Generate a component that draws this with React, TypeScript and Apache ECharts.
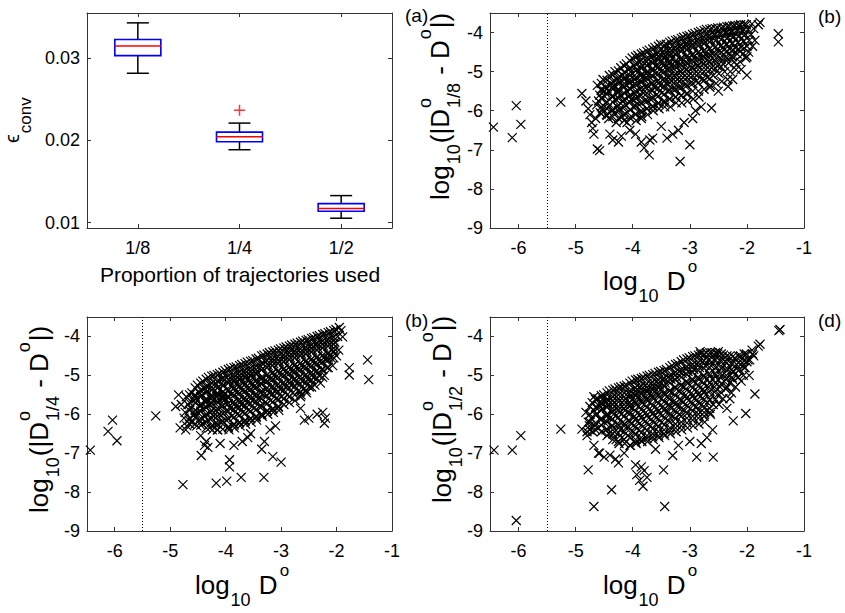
import React, { useEffect, useRef } from 'react';
import * as echarts from 'echarts';

// ---------- Panel (a): box plot data ----------
const proportions = ['1/8', '1/4', '1/2'];
const whiskerLow = [0.02817, 0.01887, 0.01054];
const quartile1 = [0.03032, 0.01984, 0.01139];
const medians = [0.0315, 0.02045, 0.01171];
const quartile3 = [0.03227, 0.02101, 0.01232];
const whiskerHigh = [0.0343, 0.02211, 0.01329];
const boxOutliers: [number, number][] = [[2, 0.02366]];
const epsTicks = [0.01, 0.02, 0.03];

// ---------- Scatter panels ----------
const logDTicks = [-6, -5, -4, -3, -2, -1];
const logErrTicks = [-9, -8, -7, -6, -5, -4];
const thresholdLogD = -5.5;

const coreEighth: [number, number][] = [
  [-4.62,-5.35],[-4.58,-5.6],[-4.63,-5.85],[-4.57,-6.05],[-4.6,-5.75],[-4.55,-5.45],
  [-4.52,-5.2],[-4.48,-5.4],[-4.5,-5.62],[-4.47,-5.8],[-4.53,-5.95],[-4.46,-6.1],[-4.49,-5.5],
  [-4.41,-5.1],[-4.38,-5.3],[-4.43,-5.5],[-4.36,-5.65],[-4.4,-5.85],[-4.37,-6.0],[-4.42,-6.2],[-4.35,-5.4],
  [-4.31,-5.0],[-4.28,-5.2],[-4.33,-5.35],[-4.26,-5.55],[-4.3,-5.7],[-4.27,-5.9],[-4.32,-6.05],[-4.29,-6.3],[-4.25,-5.45],
  [-4.21,-4.9],[-4.18,-5.1],[-4.23,-5.25],[-4.16,-5.4],[-4.2,-5.6],[-4.17,-5.75],[-4.22,-5.95],[-4.19,-6.15],[-4.15,-5.3],
  [-4.11,-4.8],[-4.08,-4.95],[-4.13,-5.15],[-4.06,-5.3],[-4.1,-5.5],[-4.07,-5.65],[-4.12,-5.85],[-4.09,-6.05],[-4.05,-5.2],[-4.1,-6.3],
  [-4.01,-4.65],[-3.98,-4.85],[-4.03,-5.0],[-3.96,-5.2],[-4.0,-5.35],[-3.97,-5.55],[-4.02,-5.7],[-3.99,-5.9],[-3.95,-6.1],[-4.04,-5.45],
  [-3.91,-4.58],[-3.88,-4.75],[-3.93,-4.95],[-3.86,-5.1],[-3.9,-5.3],[-3.87,-5.45],[-3.92,-5.65],[-3.89,-5.85],[-3.85,-6.05],[-3.94,-6.25],[-3.9,-5.0],
  [-3.81,-4.52],[-3.78,-4.7],[-3.83,-4.85],[-3.76,-5.05],[-3.8,-5.2],[-3.77,-5.4],[-3.82,-5.55],[-3.79,-5.75],[-3.75,-5.95],[-3.84,-6.15],[-3.8,-5.1],
  [-3.71,-4.45],[-3.68,-4.62],[-3.73,-4.8],[-3.66,-4.95],[-3.7,-5.15],[-3.67,-5.3],[-3.72,-5.5],[-3.69,-5.7],[-3.65,-5.9],[-3.74,-6.1],[-3.7,-5.05],
  [-3.61,-4.38],[-3.58,-4.55],[-3.63,-4.72],[-3.56,-4.9],[-3.6,-5.05],[-3.57,-5.25],[-3.62,-5.4],[-3.59,-5.6],[-3.55,-5.8],[-3.64,-6.0],[-3.6,-4.85],
  [-3.51,-4.3],[-3.48,-4.5],[-3.53,-4.65],[-3.46,-4.85],[-3.5,-5.0],[-3.47,-5.2],[-3.52,-5.35],[-3.49,-5.55],[-3.45,-5.75],[-3.54,-5.95],[-3.5,-4.75],
  [-3.41,-4.3],[-3.38,-4.45],[-3.43,-4.6],[-3.36,-4.8],[-3.4,-4.95],[-3.37,-5.15],[-3.42,-5.3],[-3.39,-5.5],[-3.35,-5.7],[-3.44,-5.9],[-3.4,-4.7],
  [-3.31,-4.22],[-3.28,-4.4],[-3.33,-4.55],[-3.26,-4.75],[-3.3,-4.9],[-3.27,-5.1],[-3.32,-5.25],[-3.29,-5.45],[-3.25,-5.65],[-3.34,-5.9],[-3.3,-4.65],
  [-3.21,-4.18],[-3.18,-4.35],[-3.23,-4.5],[-3.16,-4.7],[-3.2,-4.85],[-3.17,-5.0],[-3.22,-5.2],[-3.19,-5.4],[-3.15,-5.6],[-3.24,-5.8],
  [-3.11,-4.12],[-3.08,-4.3],[-3.13,-4.45],[-3.06,-4.62],[-3.1,-4.8],[-3.07,-4.95],[-3.12,-5.15],[-3.09,-5.35],[-3.05,-5.55],[-3.14,-5.8],
  [-3.01,-4.08],[-2.98,-4.25],[-3.03,-4.4],[-2.96,-4.58],[-3.0,-4.75],[-2.97,-4.9],[-3.02,-5.1],[-2.99,-5.3],[-2.95,-5.5],[-3.04,-5.75],
  [-2.91,-4.02],[-2.88,-4.2],[-2.93,-4.35],[-2.86,-4.52],[-2.9,-4.7],[-2.87,-4.85],[-2.92,-5.05],[-2.89,-5.25],[-2.85,-5.5],[-2.94,-5.7],
  [-2.81,-3.97],[-2.78,-4.15],[-2.83,-4.3],[-2.76,-4.48],[-2.8,-4.65],[-2.77,-4.8],[-2.82,-5.0],[-2.79,-5.2],[-2.75,-5.45],[-2.84,-5.65],
  [-2.71,-3.92],[-2.68,-4.1],[-2.73,-4.25],[-2.66,-4.42],[-2.7,-4.6],[-2.67,-4.75],[-2.72,-4.95],[-2.69,-5.15],[-2.65,-5.4],
  [-2.61,-3.9],[-2.58,-4.05],[-2.63,-4.2],[-2.56,-4.38],[-2.6,-4.55],[-2.57,-4.7],[-2.62,-4.9],[-2.59,-5.1],[-2.64,-5.35],
  [-2.51,-3.88],[-2.48,-4.02],[-2.53,-4.18],[-2.46,-4.35],[-2.5,-4.5],[-2.47,-4.65],[-2.52,-4.85],[-2.49,-5.05],[-2.54,-5.3],
  [-2.41,-3.86],[-2.38,-4.0],[-2.43,-4.15],[-2.36,-4.3],[-2.4,-4.45],[-2.37,-4.62],[-2.42,-4.8],[-2.39,-5.0],[-2.44,-5.25],
  [-2.31,-3.84],[-2.28,-3.98],[-2.33,-4.12],[-2.26,-4.28],[-2.3,-4.42],[-2.27,-4.6],[-2.32,-4.78],[-2.29,-5.0],[-2.34,-5.2],
  [-2.21,-3.82],[-2.18,-3.95],[-2.23,-4.1],[-2.16,-4.25],[-2.2,-4.4],[-2.17,-4.55],[-2.22,-4.75],[-2.19,-4.95],
  [-2.11,-3.8],[-2.08,-3.95],[-2.13,-4.08],[-2.06,-4.22],[-2.1,-4.38],[-2.07,-4.55],[-2.12,-4.75],
  [-2.01,-3.8],[-1.98,-3.92],[-2.03,-4.05],[-1.96,-4.2],[-2.0,-4.35],[-1.97,-4.5],[-2.02,-4.65],
  [-1.91,-3.78],[-1.88,-3.9],[-1.93,-4.05],[-1.86,-4.2],[-1.9,-4.35],
];
// dense inner layer: [x, list of y]
const denseEighth: [number, number[]][] = [
  [-4.55, [-5.3,-5.48,-5.68,-5.9,-6.08]],
  [-4.45, [-5.22,-5.42,-5.58,-5.78,-5.95,-6.12]],
  [-4.35, [-5.08,-5.25,-5.45,-5.62,-5.78,-5.98,-6.15]],
  [-4.25, [-4.98,-5.15,-5.32,-5.5,-5.68,-5.85,-6.0,-6.2]],
  [-4.15, [-4.85,-5.02,-5.2,-5.38,-5.55,-5.72,-5.9,-6.1,-6.25]],
  [-4.05, [-4.72,-4.92,-5.1,-5.28,-5.42,-5.6,-5.78,-5.98,-6.18]],
  [-3.95, [-4.62,-4.8,-4.98,-5.15,-5.32,-5.5,-5.68,-5.88,-6.08]],
  [-3.85, [-4.55,-4.72,-4.9,-5.08,-5.25,-5.42,-5.6,-5.8,-6.0,-6.2]],
  [-3.75, [-4.48,-4.66,-4.85,-5.0,-5.18,-5.35,-5.55,-5.75,-5.95]],
  [-3.65, [-4.42,-4.6,-4.78,-4.95,-5.12,-5.3,-5.48,-5.68,-5.88]],
  [-3.55, [-4.35,-4.52,-4.7,-4.88,-5.05,-5.22,-5.42,-5.62,-5.82]],
  [-3.45, [-4.32,-4.48,-4.65,-4.82,-5.0,-5.18,-5.38,-5.58,-5.8]],
  [-3.35, [-4.25,-4.42,-4.58,-4.75,-4.92,-5.1,-5.28,-5.48,-5.7]],
  [-3.25, [-4.2,-4.38,-4.55,-4.72,-4.88,-5.05,-5.25,-5.45,-5.65]],
  [-3.15, [-4.15,-4.32,-4.48,-4.65,-4.82,-5.0,-5.2,-5.4,-5.62]],
  [-3.05, [-4.1,-4.28,-4.44,-4.6,-4.78,-4.95,-5.15,-5.35,-5.58]],
  [-2.95, [-4.05,-4.22,-4.38,-4.55,-4.72,-4.9,-5.1,-5.3]],
  [-2.85, [-4.0,-4.18,-4.34,-4.5,-4.68,-4.85,-5.05,-5.28]],
  [-2.75, [-3.95,-4.12,-4.28,-4.45,-4.62,-4.8,-5.0,-5.22]],
  [-2.65, [-3.92,-4.08,-4.24,-4.4,-4.58,-4.75,-4.95,-5.18]],
  [-2.55, [-3.9,-4.05,-4.2,-4.36,-4.54,-4.72,-4.92]],
  [-2.45, [-3.88,-4.02,-4.18,-4.33,-4.5,-4.68,-4.88]],
  [-2.35, [-3.85,-4.0,-4.15,-4.3,-4.47,-4.65]],
  [-2.25, [-3.83,-3.97,-4.12,-4.28,-4.44,-4.62]],
  [-2.15, [-3.82,-3.95,-4.1,-4.25,-4.42]],
  [-2.05, [-3.8,-3.93,-4.08,-4.22,-4.4]],
];
const outEighth: [number, number][] = [
  [-6.44,-6.42],[-6.04,-5.87],[-5.96,-6.35],[-6.11,-6.69],[-5.26,-5.78],[-4.89,-5.56],[-4.82,-5.75],[-4.78,-5.95],
  [-4.75,-6.1],[-4.72,-6.3],[-4.7,-6.45],[-4.68,-6.6],[-4.65,-6.2],[-4.62,-6.98],[-4.58,-7.02],[-4.4,-6.6],
  [-4.35,-6.75],[-4.25,-6.8],[-4.2,-6.65],[-4.05,-6.5],[-3.95,-6.6],[-3.85,-6.8],[-3.8,-6.95],[-3.7,-6.75],
  [-3.65,-6.7],[-3.71,-7.13],[-3.5,-6.4],[-3.4,-6.7],[-3.3,-6.6],[-3.2,-6.5],[-3.17,-7.3],[-3.1,-6.3],
  [-3.0,-6.87],[-2.95,-6.2],[-2.9,-6.0],[-2.8,-5.9],[-2.62,-5.93],[-2.5,-5.5],[-2.33,-5.38],[-2.0,-5.09],
  [-2.1,-4.95],[-2.25,-5.2],[-1.77,-3.74],[-1.8,-3.8],[-1.45,-4.03],[-1.45,-4.24],[-2.0,-4.62],[-2.18,-4.83],
];

const coreQuarter: [number, number][] = [
  [-4.71,-5.55],[-4.68,-5.75],[-4.73,-5.95],[-4.66,-6.15],[-4.7,-6.3],
  [-4.61,-5.45],[-4.58,-5.65],[-4.63,-5.85],[-4.56,-6.0],[-4.6,-6.2],[-4.55,-5.55],
  [-4.51,-5.25],[-4.48,-5.45],[-4.53,-5.6],[-4.46,-5.8],[-4.5,-5.95],[-4.47,-6.15],[-4.52,-6.3],
  [-4.41,-5.15],[-4.38,-5.35],[-4.43,-5.5],[-4.36,-5.7],[-4.4,-5.85],[-4.37,-6.05],[-4.42,-6.25],[-4.35,-5.6],
  [-4.31,-5.05],[-4.28,-5.25],[-4.33,-5.4],[-4.26,-5.6],[-4.3,-5.75],[-4.27,-5.95],[-4.32,-6.15],[-4.29,-6.35],[-4.25,-5.5],
  [-4.21,-5.0],[-4.18,-5.2],[-4.23,-5.35],[-4.16,-5.55],[-4.2,-5.7],[-4.17,-5.9],[-4.22,-6.05],[-4.19,-6.25],[-4.15,-5.45],[-4.24,-6.4],
  [-4.11,-4.95],[-4.08,-5.1],[-4.13,-5.3],[-4.06,-5.45],[-4.1,-5.65],[-4.07,-5.8],[-4.12,-6.0],[-4.09,-6.2],[-4.05,-5.55],[-4.14,-6.4],
  [-4.01,-4.88],[-3.98,-5.05],[-4.03,-5.25],[-3.96,-5.4],[-4.0,-5.6],[-3.97,-5.75],[-4.02,-5.95],[-3.99,-6.15],[-3.95,-6.35],[-4.04,-5.5],
  [-3.91,-4.82],[-3.88,-5.0],[-3.93,-5.15],[-3.86,-5.35],[-3.9,-5.5],[-3.87,-5.7],[-3.92,-5.85],[-3.89,-6.05],[-3.85,-6.25],[-3.94,-6.4],[-3.9,-5.25],
  [-3.81,-4.78],[-3.78,-4.95],[-3.83,-5.1],[-3.76,-5.3],[-3.8,-5.45],[-3.77,-5.65],[-3.82,-5.8],[-3.79,-6.0],[-3.75,-6.2],[-3.84,-6.35],[-3.8,-5.2],
  [-3.71,-4.72],[-3.68,-4.9],[-3.73,-5.05],[-3.66,-5.25],[-3.7,-5.4],[-3.67,-5.6],[-3.72,-5.75],[-3.69,-5.95],[-3.65,-6.15],[-3.74,-6.3],[-3.7,-5.15],
  [-3.61,-4.66],[-3.58,-4.85],[-3.63,-5.0],[-3.56,-5.2],[-3.6,-5.35],[-3.57,-5.55],[-3.62,-5.7],[-3.59,-5.9],[-3.55,-6.1],[-3.64,-6.25],[-3.6,-5.1],
  [-3.51,-4.62],[-3.48,-4.8],[-3.53,-4.95],[-3.46,-5.15],[-3.5,-5.3],[-3.47,-5.5],[-3.52,-5.65],[-3.49,-5.85],[-3.45,-6.05],[-3.54,-6.2],[-3.5,-5.05],
  [-3.41,-4.56],[-3.38,-4.75],[-3.43,-4.9],[-3.36,-5.1],[-3.4,-5.25],[-3.37,-5.45],[-3.42,-5.6],[-3.39,-5.8],[-3.35,-6.0],[-3.44,-6.15],
  [-3.31,-4.48],[-3.28,-4.65],[-3.33,-4.82],[-3.26,-5.0],[-3.3,-5.15],[-3.27,-5.35],[-3.32,-5.5],[-3.29,-5.7],[-3.25,-5.9],[-3.34,-6.05],
  [-3.21,-4.42],[-3.18,-4.6],[-3.23,-4.75],[-3.16,-4.95],[-3.2,-5.1],[-3.17,-5.3],[-3.22,-5.45],[-3.19,-5.65],[-3.15,-5.85],[-3.24,-6.0],
  [-3.11,-4.37],[-3.08,-4.55],[-3.13,-4.7],[-3.06,-4.9],[-3.1,-5.05],[-3.07,-5.25],[-3.12,-5.4],[-3.09,-5.6],[-3.05,-5.8],[-3.14,-5.95],
  [-3.01,-4.32],[-2.98,-4.5],[-3.03,-4.65],[-2.96,-4.85],[-3.0,-5.0],[-2.97,-5.2],[-3.02,-5.35],[-2.99,-5.55],[-2.95,-5.75],[-3.04,-5.9],
  [-2.91,-4.27],[-2.88,-4.45],[-2.93,-4.6],[-2.86,-4.8],[-2.9,-4.95],[-2.87,-5.15],[-2.92,-5.3],[-2.89,-5.5],[-2.85,-5.7],
  [-2.81,-4.22],[-2.78,-4.4],[-2.83,-4.55],[-2.76,-4.75],[-2.8,-4.9],[-2.77,-5.1],[-2.82,-5.25],[-2.79,-5.45],[-2.75,-5.65],
  [-2.71,-4.17],[-2.68,-4.35],[-2.73,-4.5],[-2.66,-4.7],[-2.7,-4.85],[-2.67,-5.05],[-2.72,-5.2],[-2.69,-5.4],[-2.65,-5.55],
  [-2.61,-4.12],[-2.58,-4.3],[-2.63,-4.45],[-2.56,-4.65],[-2.6,-4.8],[-2.57,-5.0],[-2.62,-5.15],[-2.59,-5.35],[-2.64,-5.5],
  [-2.51,-4.08],[-2.48,-4.25],[-2.53,-4.4],[-2.46,-4.6],[-2.5,-4.75],[-2.47,-4.95],[-2.52,-5.1],[-2.49,-5.3],[-2.54,-5.45],
  [-2.41,-4.03],[-2.38,-4.2],[-2.43,-4.35],[-2.36,-4.55],[-2.4,-4.7],[-2.37,-4.9],[-2.42,-5.05],[-2.39,-5.25],
  [-2.31,-3.98],[-2.28,-4.15],[-2.33,-4.3],[-2.26,-4.5],[-2.3,-4.65],[-2.27,-4.85],[-2.32,-5.0],[-2.29,-5.2],
  [-2.21,-3.93],[-2.18,-4.1],[-2.23,-4.25],[-2.16,-4.45],[-2.2,-4.6],[-2.17,-4.8],[-2.22,-5.0],
  [-2.11,-3.88],[-2.08,-4.05],[-2.13,-4.2],[-2.06,-4.4],[-2.1,-4.55],[-2.07,-4.75],
  [-2.01,-3.82],[-1.98,-4.0],[-2.03,-4.15],[-1.96,-4.35],[-2.0,-4.5],
];
const denseQuarter: [number, number[]][] = [
  [-4.65, [-5.5,-5.7,-5.9,-6.1,-6.25]],
  [-4.55, [-5.32,-5.5,-5.7,-5.9,-6.08,-6.25]],
  [-4.45, [-5.2,-5.38,-5.55,-5.75,-5.92,-6.1,-6.28]],
  [-4.35, [-5.1,-5.28,-5.45,-5.65,-5.82,-6.0,-6.2,-6.35]],
  [-4.25, [-5.02,-5.2,-5.38,-5.55,-5.72,-5.9,-6.1,-6.3]],
  [-4.15, [-4.98,-5.15,-5.32,-5.5,-5.68,-5.85,-6.05,-6.25,-6.4]],
  [-4.05, [-4.92,-5.08,-5.25,-5.42,-5.6,-5.78,-5.98,-6.18,-6.38]],
  [-3.95, [-4.85,-5.02,-5.2,-5.38,-5.55,-5.72,-5.92,-6.12,-6.32]],
  [-3.85, [-4.8,-4.98,-5.15,-5.32,-5.5,-5.68,-5.88,-6.08,-6.28]],
  [-3.75, [-4.75,-4.92,-5.1,-5.28,-5.45,-5.62,-5.82,-6.02,-6.22]],
  [-3.65, [-4.7,-4.88,-5.05,-5.22,-5.4,-5.58,-5.78,-5.98,-6.18]],
  [-3.55, [-4.64,-4.82,-5.0,-5.18,-5.35,-5.52,-5.72,-5.92,-6.12]],
  [-3.45, [-4.58,-4.76,-4.94,-5.12,-5.3,-5.48,-5.68,-5.88,-6.08]],
  [-3.35, [-4.5,-4.68,-4.86,-5.04,-5.22,-5.4,-5.6,-5.8,-6.0]],
  [-3.25, [-4.45,-4.62,-4.8,-4.98,-5.15,-5.32,-5.52,-5.72,-5.92]],
  [-3.15, [-4.4,-4.58,-4.75,-4.92,-5.1,-5.28,-5.48,-5.68,-5.88]],
  [-3.05, [-4.35,-4.52,-4.7,-4.88,-5.05,-5.22,-5.42,-5.62,-5.82]],
  [-2.95, [-4.3,-4.48,-4.65,-4.82,-5.0,-5.18,-5.38,-5.6]],
  [-2.85, [-4.25,-4.42,-4.6,-4.78,-4.95,-5.12,-5.32,-5.55]],
  [-2.75, [-4.2,-4.38,-4.55,-4.72,-4.9,-5.08,-5.28,-5.5]],
  [-2.65, [-4.15,-4.32,-4.5,-4.68,-4.85,-5.02,-5.22,-5.42]],
  [-2.55, [-4.1,-4.28,-4.45,-4.62,-4.8,-4.98,-5.18,-5.38]],
  [-2.45, [-4.05,-4.22,-4.4,-4.58,-4.75,-4.92,-5.12,-5.3]],
  [-2.35, [-4.0,-4.18,-4.35,-4.52,-4.7,-4.88,-5.08]],
  [-2.25, [-3.95,-4.12,-4.3,-4.48,-4.65,-4.85,-5.05]],
  [-2.15, [-3.9,-4.08,-4.25,-4.42,-4.6,-4.8]],
  [-2.05, [-3.85,-4.02,-4.2,-4.38,-4.55]],
];
const outQuarter: [number, number][] = [
  [-6.44,-6.92],[-6.04,-6.15],[-6.12,-6.44],[-5.96,-6.68],[-5.26,-6.04],[-4.85,-5.5],[-4.8,-5.75],[-4.9,-5.8],
  [-4.82,-6.35],[-4.72,-6.4],[-4.75,-6.1],[-4.77,-7.81],[-4.17,-7.77],[-3.98,-7.72],[-3.72,-7.62],[-3.31,-7.62],
  [-3.93,-7.17],[-3.93,-7.35],[-3.15,-7.09],[-3.0,-7.23],[-4.44,-7.06],[-4.38,-6.8],[-4.35,-6.7],[-4.32,-6.85],
  [-4.45,-6.55],[-4.1,-6.75],[-3.85,-6.8],[-3.7,-6.7],[-3.6,-6.6],[-3.35,-6.9],[-3.3,-6.7],[-3.55,-6.5],
  [-3.2,-6.4],[-3.1,-6.3],[-2.58,-6.15],[-2.5,-6.1],[-2.35,-6.0],[-2.22,-6.23],[-2.25,-5.95],[-2.2,-6.1],
  [-2.65,-5.85],[-1.95,-3.77],[-1.89,-4.01],[-1.92,-3.85],[-1.77,-4.8],[-1.77,-4.99],[-1.44,-4.6],[-1.42,-5.11],
  [-2.05,-4.3],[-2.15,-4.55],
];

const coreHalf: [number, number][] = [
  [-4.82,-5.95],[-4.78,-6.2],[-4.8,-6.45],[-4.76,-6.3],
  [-4.71,-5.7],[-4.68,-5.9],[-4.73,-6.1],[-4.66,-6.3],[-4.7,-6.45],
  [-4.61,-5.6],[-4.58,-5.8],[-4.63,-6.0],[-4.56,-6.15],[-4.6,-6.35],[-4.55,-5.7],
  [-4.51,-5.5],[-4.48,-5.7],[-4.53,-5.85],[-4.46,-6.05],[-4.5,-6.2],[-4.47,-6.4],[-4.52,-5.6],
  [-4.41,-5.4],[-4.38,-5.6],[-4.43,-5.75],[-4.36,-5.95],[-4.4,-6.1],[-4.37,-6.3],[-4.42,-6.5],[-4.35,-5.85],
  [-4.31,-5.35],[-4.28,-5.55],[-4.33,-5.7],[-4.26,-5.9],[-4.3,-6.05],[-4.27,-6.25],[-4.32,-6.45],[-4.29,-6.65],[-4.25,-5.8],
  [-4.21,-5.3],[-4.18,-5.5],[-4.23,-5.65],[-4.16,-5.85],[-4.2,-6.0],[-4.17,-6.2],[-4.22,-6.4],[-4.19,-6.6],[-4.15,-5.75],[-4.24,-6.75],
  [-4.11,-5.25],[-4.08,-5.45],[-4.13,-5.6],[-4.06,-5.8],[-4.1,-5.95],[-4.07,-6.15],[-4.12,-6.35],[-4.09,-6.55],[-4.05,-5.7],[-4.14,-6.75],
  [-4.01,-5.15],[-3.98,-5.35],[-4.03,-5.5],[-3.96,-5.7],[-4.0,-5.85],[-3.97,-6.05],[-4.02,-6.25],[-3.99,-6.45],[-3.95,-6.65],[-4.04,-6.8],[-4.0,-5.6],
  [-3.91,-5.1],[-3.88,-5.3],[-3.93,-5.45],[-3.86,-5.65],[-3.9,-5.8],[-3.87,-6.0],[-3.92,-6.2],[-3.89,-6.4],[-3.85,-6.6],[-3.94,-6.75],[-3.9,-5.55],
  [-3.81,-5.05],[-3.78,-5.25],[-3.83,-5.4],[-3.76,-5.6],[-3.8,-5.75],[-3.77,-5.95],[-3.82,-6.15],[-3.79,-6.35],[-3.75,-6.55],[-3.84,-6.7],[-3.8,-5.5],
  [-3.71,-5.0],[-3.68,-5.2],[-3.73,-5.35],[-3.66,-5.55],[-3.7,-5.7],[-3.67,-5.9],[-3.72,-6.1],[-3.69,-6.3],[-3.65,-6.5],[-3.74,-6.7],[-3.7,-5.45],
  [-3.61,-4.95],[-3.58,-5.15],[-3.63,-5.3],[-3.56,-5.5],[-3.6,-5.65],[-3.57,-5.85],[-3.62,-6.05],[-3.59,-6.25],[-3.55,-6.45],[-3.64,-6.65],[-3.6,-5.4],
  [-3.51,-4.9],[-3.48,-5.1],[-3.53,-5.25],[-3.46,-5.45],[-3.5,-5.6],[-3.47,-5.8],[-3.52,-6.0],[-3.49,-6.2],[-3.45,-6.4],[-3.54,-6.6],[-3.5,-5.35],
  [-3.41,-4.85],[-3.38,-5.05],[-3.43,-5.2],[-3.36,-5.4],[-3.4,-5.55],[-3.37,-5.75],[-3.42,-5.95],[-3.39,-6.15],[-3.35,-6.35],[-3.44,-6.55],
  [-3.31,-4.75],[-3.28,-4.95],[-3.33,-5.1],[-3.26,-5.3],[-3.3,-5.45],[-3.27,-5.65],[-3.32,-5.85],[-3.29,-6.05],[-3.25,-6.25],[-3.34,-6.5],
  [-3.21,-4.7],[-3.18,-4.9],[-3.23,-5.05],[-3.16,-5.25],[-3.2,-5.4],[-3.17,-5.6],[-3.22,-5.8],[-3.19,-6.0],[-3.15,-6.2],[-3.24,-6.45],
  [-3.11,-4.6],[-3.08,-4.8],[-3.13,-4.95],[-3.06,-5.15],[-3.1,-5.3],[-3.07,-5.5],[-3.12,-5.7],[-3.09,-5.9],[-3.05,-6.1],[-3.14,-6.4],
  [-3.01,-4.55],[-2.98,-4.75],[-3.03,-4.9],[-2.96,-5.1],[-3.0,-5.25],[-2.97,-5.45],[-3.02,-5.65],[-2.99,-5.85],[-2.95,-6.05],[-3.04,-6.35],
  [-2.91,-4.5],[-2.88,-4.7],[-2.93,-4.85],[-2.86,-5.05],[-2.9,-5.2],[-2.87,-5.4],[-2.92,-5.6],[-2.89,-5.8],[-2.85,-6.0],[-2.94,-6.3],
  [-2.81,-4.45],[-2.78,-4.65],[-2.83,-4.8],[-2.76,-5.0],[-2.8,-5.15],[-2.77,-5.35],[-2.82,-5.55],[-2.79,-5.75],[-2.75,-5.95],[-2.84,-6.25],
  [-2.71,-4.42],[-2.68,-4.6],[-2.73,-4.75],[-2.66,-4.95],[-2.7,-5.1],[-2.67,-5.3],[-2.72,-5.5],[-2.69,-5.7],[-2.65,-5.95],[-2.74,-6.2],
  [-2.61,-4.42],[-2.58,-4.6],[-2.63,-4.75],[-2.56,-4.95],[-2.6,-5.1],[-2.57,-5.3],[-2.62,-5.5],[-2.59,-5.75],[-2.64,-6.0],
  [-2.51,-4.45],[-2.48,-4.62],[-2.53,-4.78],[-2.46,-4.95],[-2.5,-5.12],[-2.47,-5.3],[-2.52,-5.5],[-2.49,-5.75],
  [-2.41,-4.48],[-2.38,-4.65],[-2.43,-4.8],[-2.36,-5.0],[-2.4,-5.15],[-2.37,-5.35],[-2.42,-5.6],
  [-2.31,-4.52],[-2.28,-4.7],[-2.33,-4.85],[-2.26,-5.05],[-2.3,-5.2],[-2.27,-5.45],
  [-2.21,-4.55],[-2.18,-4.72],[-2.23,-4.9],[-2.16,-5.05],[-2.2,-5.3],
  [-2.11,-4.5],[-2.08,-4.68],[-2.13,-4.85],[-2.06,-5.0],[-2.1,-5.15],
  [-2.01,-4.45],[-1.98,-4.6],[-2.03,-4.8],[-1.96,-5.0],
  [-1.91,-4.35],[-1.88,-4.5],
];
const denseHalf: [number, number[]][] = [
  [-4.75, [-5.8,-6.0,-6.2,-6.4]],
  [-4.65, [-5.62,-5.82,-6.02,-6.22,-6.4]],
  [-4.55, [-5.52,-5.72,-5.9,-6.1,-6.28,-6.45]],
  [-4.45, [-5.45,-5.62,-5.82,-6.0,-6.2,-6.38,-6.55]],
  [-4.35, [-5.38,-5.55,-5.75,-5.92,-6.12,-6.3,-6.5,-6.65]],
  [-4.25, [-5.32,-5.5,-5.68,-5.88,-6.08,-6.28,-6.48,-6.7]],
  [-4.15, [-5.28,-5.45,-5.65,-5.85,-6.05,-6.25,-6.45,-6.65]],
  [-4.05, [-5.2,-5.4,-5.58,-5.78,-5.98,-6.18,-6.38,-6.6,-6.8]],
  [-3.95, [-5.12,-5.32,-5.52,-5.72,-5.92,-6.12,-6.32,-6.52,-6.72]],
  [-3.85, [-5.08,-5.28,-5.48,-5.68,-5.88,-6.08,-6.28,-6.48,-6.68]],
  [-3.75, [-5.02,-5.22,-5.42,-5.62,-5.82,-6.02,-6.22,-6.42,-6.62]],
  [-3.65, [-4.98,-5.18,-5.38,-5.58,-5.78,-5.98,-6.18,-6.38,-6.58]],
  [-3.55, [-4.92,-5.12,-5.32,-5.52,-5.72,-5.92,-6.12,-6.32,-6.55]],
  [-3.45, [-4.88,-5.08,-5.28,-5.48,-5.68,-5.88,-6.08,-6.28,-6.5]],
  [-3.35, [-4.8,-5.0,-5.2,-5.4,-5.6,-5.8,-6.0,-6.2,-6.42]],
  [-3.25, [-4.72,-4.92,-5.12,-5.32,-5.52,-5.72,-5.92,-6.12,-6.35]],
  [-3.15, [-4.65,-4.85,-5.05,-5.25,-5.45,-5.65,-5.85,-6.05,-6.3]],
  [-3.05, [-4.58,-4.78,-4.98,-5.18,-5.38,-5.58,-5.78,-5.98,-6.22]],
  [-2.95, [-4.52,-4.72,-4.92,-5.12,-5.32,-5.52,-5.72,-5.92,-6.15]],
  [-2.85, [-4.48,-4.68,-4.88,-5.08,-5.28,-5.48,-5.68,-5.9,-6.1]],
  [-2.75, [-4.45,-4.62,-4.82,-5.02,-5.22,-5.42,-5.62,-5.85,-6.05]],
  [-2.65, [-4.42,-4.6,-4.8,-5.0,-5.2,-5.4,-5.62,-5.85]],
  [-2.55, [-4.42,-4.6,-4.8,-5.0,-5.2,-5.4,-5.62]],
  [-2.45, [-4.45,-4.62,-4.82,-5.02,-5.22,-5.45]],
  [-2.35, [-4.5,-4.68,-4.88,-5.08,-5.3]],
  [-2.25, [-4.52,-4.7,-4.9,-5.1]],
  [-2.15, [-4.5,-4.68,-4.88,-5.05]],
  [-2.05, [-4.45,-4.62,-4.8]],
];
const outHalf: [number, number][] = [
  [-6.43,-6.92],[-6.11,-6.92],[-5.96,-6.55],[-6.04,-8.73],[-5.26,-6.38],[-4.68,-8.37],[-3.44,-8.37],[-4.37,-7.94],
  [-4.78,-7.43],[-3.46,-7.43],[-3.82,-7.85],[-3.88,-7.7],[-3.93,-7.55],[-3.75,-7.62],[-3.85,-7.35],[-3.95,-7.3],
  [-3.8,-7.45],[-3.3,-7.06],[-2.88,-7.1],[-2.59,-7.1],[-1.42,-3.82],[-1.44,-3.85],[-1.77,-4.2],[-1.8,-4.25],
  [-1.86,-5.48],[-2.02,-5.98],[-2.24,-6.17],[-4.68,-5.55],[-4.89,-6.38],[-4.8,-6.55],[-4.5,-7.1],[-4.4,-7.05],
  [-4.6,-7.0],[-4.3,-7.15],[-4.25,-7.25],[-4.68,-6.8],[-4.58,-7.0],[-4.15,-7.0],[-3.6,-6.9],[-3.2,-6.8],
  [-3.0,-6.7],[-2.7,-6.6],[-2.6,-6.4],[-2.8,-6.75],[-2.35,-5.85],[-2.3,-5.6],[-1.95,-4.6],[-1.9,-4.45],
  [-2.0,-4.65],[-2.82,-4.39],[-2.5,-4.39],
];

function expandColumns(cols: [number, number[]][]): [number, number][] {
  const out: [number, number][] = [];
  for (const [x, ys] of cols) for (const y of ys) out.push([x, y]);
  return out;
}

const pointsEighth = [...coreEighth, ...expandColumns(denseEighth), ...outEighth];
const pointsQuarter = [...coreQuarter, ...expandColumns(denseQuarter), ...outQuarter];
const pointsHalf = [...coreHalf, ...expandColumns(denseHalf), ...outHalf];

// ---------- styling ----------
const FONT = '"Liberation Sans", Arial, Helvetica, sans-serif';
const INK = '#000';
const FRAME = '#333';
const X_MARK = 'path://M0,0L10,10M10,0L0,10';
const PLUS_MARK = 'path://M5,0L5,10M0,5L10,5';

let measureCtx: CanvasRenderingContext2D | null = null;
function textWidth(t: string, size: number): number {
  if (!measureCtx) measureCtx = document.createElement('canvas').getContext('2d');
  if (!measureCtx) return t.length * size * 0.55;
  measureCtx.font = `${size}px ${FONT}`;
  return measureCtx.measureText(t).width;
}

type Piece = { t: string; size: number; dy: number; stack?: boolean; gap?: number };

function layoutLabel(pieces: Piece[], x: number, y: number, vertical: boolean, align: 'start' | 'center') {
  const items: { off: number; p: Piece }[] = [];
  let off = 0;
  let pend = 0;
  for (const p of pieces) {
    off += p.gap || 0;
    const w = textWidth(p.t, p.size);
    items.push({ off, p });
    if (p.stack) pend = w;
    else {
      off += Math.max(w, pend);
      pend = 0;
    }
  }
  const shift = align === 'center' ? -off / 2 : 0;
  return {
    type: 'group',
    x,
    y,
    rotation: vertical ? Math.PI / 2 : 0,
    silent: true,
    children: items.map(({ off: o, p }) => ({
      type: 'text',
      x: o + shift,
      y: p.dy - 0.35 * p.size,
      style: {
        text: p.t,
        fontSize: p.size,
        fontFamily: FONT,
        fill: INK,
        textAlign: 'left',
        textVerticalAlign: 'middle',
        align: 'left',
        verticalAlign: 'middle',
      },
    })),
  };
}

function yLabelPieces(frac: string): Piece[] {
  return [
    { t: 'log', size: 26, dy: 0 },
    { t: '10', size: 18, dy: 11, gap: 1 },
    { t: '(|D', size: 26, dy: 0, gap: 1 },
    { t: 'o', size: 18, dy: -18, stack: true, gap: 1 },
    { t: frac, size: 18, dy: 11 },
    { t: ' - D', size: 26, dy: 0, gap: 1 },
    { t: 'o', size: 18, dy: -18, gap: 1 },
    { t: '|)', size: 26, dy: 0, gap: 1 },
  ];
}
const xLabelPieces: Piece[] = [
  { t: 'log', size: 26, dy: 0 },
  { t: '10', size: 18, dy: 12, gap: 1 },
  { t: ' D', size: 26, dy: 0, gap: 1 },
  { t: 'o', size: 17, dy: -18, gap: 2 },
];

function panelTag(text: string, x: number, y: number) {
  return {
    type: 'text',
    x,
    y,
    silent: true,
    style: {
      text,
      fontSize: 19,
      fontFamily: FONT,
      fill: INK,
      textAlign: 'left',
      textVerticalAlign: 'middle',
      align: 'left',
      verticalAlign: 'middle',
    },
  };
}

function mkAxis(
  gridIndex: number,
  min: number,
  max: number,
  ticks: number[],
  position: string,
  showLabel: boolean,
  formatter?: (v: number) => string,
  margin = 7,
) {
  return {
    type: 'value',
    gridIndex,
    min,
    max,
    position,
    axisLine: { show: true, onZero: false, lineStyle: { color: FRAME, width: 1 } },
    axisTick: { show: true, inside: true, length: 4, customValues: ticks, lineStyle: { color: FRAME, width: 1 } },
    axisLabel: {
      show: showLabel,
      customValues: ticks,
      formatter: formatter || ((v: number) => String(Math.round(v))),
      margin,
      color: INK,
      fontSize: 18,
      fontFamily: FONT,
    },
    splitLine: { show: false },
  };
}

const grids = [
  { left: 87, top: 13, width: 305, height: 215 },
  { left: 490, top: 13, width: 314, height: 215 },
  { left: 87, top: 317, width: 305, height: 214 },
  { left: 490, top: 317, width: 314, height: 214 },
];

function scatterSeries(axisIndex: number, data: [number, number][]) {
  return {
    type: 'scatter',
    xAxisIndex: axisIndex,
    yAxisIndex: axisIndex,
    data,
    symbol: X_MARK,
    symbolSize: 9,
    silent: true,
    large: false,
    progressive: 0,
    itemStyle: { color: 'rgba(0,0,0,0)', borderColor: INK, borderWidth: 1.2, opacity: 1 },
    markLine: {
      silent: true,
      symbol: ['none', 'none'],
      label: { show: false },
      lineStyle: { type: [1, 2], color: INK, width: 1 },
      data: [{ xAxis: thresholdLogD }],
    },
  };
}

function buildOption() {
  const xAxes: any[] = [];
  const yAxes: any[] = [];
  const catFmt = (v: number) => proportions[Math.round(v) - 1] || '';
  xAxes.push(mkAxis(0, 0.5, 3.5, [1, 2, 3], 'bottom', true, catFmt, 11));
  yAxes.push(mkAxis(0, 0.00935, 0.0355, epsTicks, 'left', true, (v) => v.toFixed(2), 7));
  xAxes.push(mkAxis(0, 0.5, 3.5, [1, 2, 3], 'top', false));
  yAxes.push(mkAxis(0, 0.00935, 0.0355, epsTicks, 'right', false));
  for (let g = 1; g <= 3; g++) {
    xAxes.push(mkAxis(g, -6.5, -1, logDTicks, 'bottom', true, undefined, 11));
    yAxes.push(mkAxis(g, -9, -3.5, logErrTicks, 'left', true, undefined, 7));
    xAxes.push(mkAxis(g, -6.5, -1, logDTicks, 'top', false));
    yAxes.push(mkAxis(g, -9, -3.5, logErrTicks, 'right', false));
  }

  const boxData = proportions.map((_, i) => [
    i + 1,
    whiskerLow[i],
    quartile1[i],
    medians[i],
    quartile3[i],
    whiskerHigh[i],
  ]);

  const boxSeries = {
    type: 'custom',
    xAxisIndex: 0,
    yAxisIndex: 0,
    silent: true,
    data: boxData,
    encode: { x: 0, y: [1, 2, 3, 4, 5] },
    renderItem: (_params: any, api: any) => {
      const x = api.value(0);
      const pLow = api.coord([x, api.value(1)]);
      const pQ1 = api.coord([x, api.value(2)]);
      const pMed = api.coord([x, api.value(3)]);
      const pQ3 = api.coord([x, api.value(4)]);
      const pHigh = api.coord([x, api.value(5)]);
      const cx = pLow[0];
      const hb = 23;
      const hc = 11;
      const black = { stroke: '#000', lineWidth: 1.5 };
      return {
        type: 'group',
        children: [
          { type: 'line', shape: { x1: cx, y1: pLow[1], x2: cx, y2: pQ1[1] }, style: black },
          { type: 'line', shape: { x1: cx, y1: pQ3[1], x2: cx, y2: pHigh[1] }, style: black },
          { type: 'line', shape: { x1: cx - hc, y1: pLow[1], x2: cx + hc, y2: pLow[1] }, style: black },
          { type: 'line', shape: { x1: cx - hc, y1: pHigh[1], x2: cx + hc, y2: pHigh[1] }, style: black },
          {
            type: 'rect',
            shape: { x: cx - hb, y: pQ3[1], width: 2 * hb, height: pQ1[1] - pQ3[1] },
            style: { fill: 'none', stroke: '#0000ff', lineWidth: 1.6 },
          },
          {
            type: 'line',
            shape: { x1: cx - hb, y1: pMed[1], x2: cx + hb, y2: pMed[1] },
            style: { stroke: '#ff0000', lineWidth: 1.5 },
          },
        ],
      };
    },
  };

  const outlierSeries = {
    type: 'scatter',
    xAxisIndex: 0,
    yAxisIndex: 0,
    data: boxOutliers,
    symbol: PLUS_MARK,
    symbolSize: 11,
    silent: true,
    itemStyle: { color: 'rgba(0,0,0,0)', borderColor: '#ff0000', borderWidth: 1.5 },
  };

  const graphics = [
    layoutLabel([{ t: 'ϵ', size: 20, dy: 0 }, { t: 'conv', size: 17, dy: 12, gap: 1 }], 19, 143, true, 'start'),
    layoutLabel([{ t: 'Proportion of trajectories used', size: 21, dy: 0 }], 240, 282, false, 'center'),
    layoutLabel(xLabelPieces, 650, 290, false, 'center'),
    layoutLabel(xLabelPieces, 242, 594, false, 'center'),
    layoutLabel(xLabelPieces, 650, 594, false, 'center'),
    layoutLabel(yLabelPieces('1/8'), 449, 200, true, 'start'),
    layoutLabel(yLabelPieces('1/4'), 48, 513, true, 'start'),
    layoutLabel(yLabelPieces('1/2'), 451, 503, true, 'start'),
    panelTag('(a)', 405, 15),
    panelTag('(b)', 818, 16),
    panelTag('(b)', 405, 320),
    panelTag('(d)', 818, 320),
  ];

  return {
    animation: false,
    backgroundColor: '#ffffff',
    textStyle: { fontFamily: FONT },
    grid: grids.map((g) => ({ ...g, containLabel: false, outerBoundsMode: 'none' })),
    xAxis: xAxes,
    yAxis: yAxes,
    series: [
      boxSeries,
      outlierSeries,
      scatterSeries(2, pointsEighth),
      scatterSeries(4, pointsQuarter),
      scatterSeries(6, pointsHalf),
    ],
    graphic: graphics,
  };
}

export default function App() {
  const ref = useRef<HTMLDivElement>(null);
  useEffect(() => {
    if (!ref.current) return;
    const chart = echarts.init(ref.current, undefined, { renderer: 'svg' });
    chart.setOption(buildOption() as any);
    return () => chart.dispose();
  }, []);
  return (
    <div
      ref={ref}
      style={{ position: 'absolute', left: 0, top: 0, width: 845, height: 613, background: '#fff' }}
    />
  );
}
